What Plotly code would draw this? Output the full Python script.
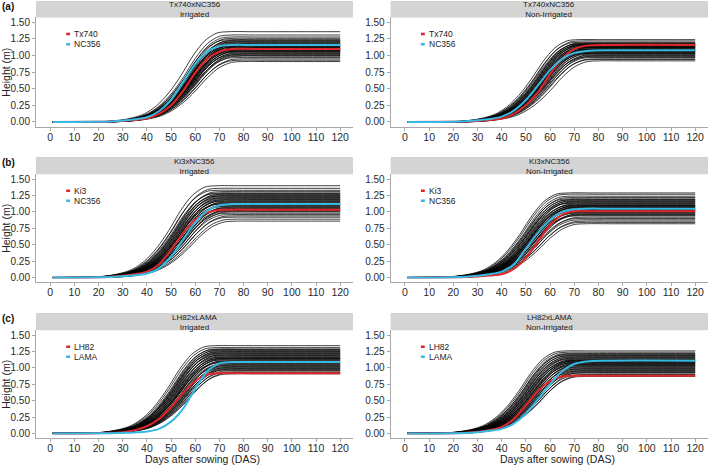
import plotly.graph_objects as go

# ---------------- data ----------------
DAYS = [1, 20, 25, 30, 35, 40, 45, 50, 55, 60, 65, 70, 75, 85, 120]
# shared growth profile of the population lines (fraction of final height)
PROFILE = [0, 0.002, 0.007, 0.02, 0.045, 0.09, 0.18, 0.32, 0.51, 0.73, 0.90, 0.985, 1.0, 1.0, 1.0]

TITLES_TOP = ["Tx740xNC356", "Tx740xNC356", "Ki3xNC356", "Ki3xNC356", "LH82xLAMA", "LH82xLAMA"]
TITLES_BOTTOM = ["Irrigated", "Non-Irrigated", "Irrigated", "Non-Irrigated", "Irrigated", "Non-Irrigated"]
PARENT_RED = ["Tx740", "Tx740", "Ki3", "Ki3", "LH82", "LH82"]
PARENT_CYAN = ["NC356", "NC356", "NC356", "NC356", "LAMA", "LAMA"]
PANEL_TAGS = ["(a)", "(b)", "(c)"]

# final heights (m) of the population lines per panel
heights_a = [1.36, 1.31, 1.28, 1.26, 1.24, 1.23, 1.22, 1.21, 1.20, 1.19, 1.18, 1.17, 1.165, 1.16,
             1.15, 1.145, 1.14, 1.13, 1.125, 1.12, 1.11, 1.105, 1.10, 1.09, 1.085, 1.08, 1.07,
             1.065, 1.06, 1.05, 1.04, 1.03, 1.02, 1.01, 1.00, 0.99, 0.97, 0.95, 0.93, 0.91]
heights_a2 = [1.24, 1.22, 1.20, 1.19, 1.18, 1.175, 1.17, 1.165, 1.16, 1.155, 1.15, 1.14, 1.135,
              1.13, 1.125, 1.12, 1.115, 1.11, 1.10, 1.095, 1.09, 1.085, 1.08, 1.075, 1.07, 1.06,
              1.055, 1.05, 1.04, 1.035, 1.03, 1.02, 1.01, 1.00, 0.99, 0.98, 0.97, 0.95, 0.94, 0.92]
heights_b = [1.40, 1.36, 1.33, 1.31, 1.29, 1.28, 1.27, 1.26, 1.25, 1.24, 1.23, 1.22, 1.21, 1.20,
             1.19, 1.18, 1.17, 1.16, 1.15, 1.14, 1.13, 1.12, 1.11, 1.10, 1.09, 1.08, 1.07, 1.06,
             1.05, 1.04, 1.03, 1.02, 1.01, 1.00, 0.98, 0.96, 0.94, 0.92, 0.89, 0.86]
heights_b2 = [1.29, 1.27, 1.24, 1.22, 1.20, 1.19, 1.18, 1.17, 1.16, 1.15, 1.14, 1.13, 1.12, 1.11,
              1.10, 1.095, 1.09, 1.08, 1.075, 1.07, 1.06, 1.05, 1.045, 1.04, 1.03, 1.02, 1.01,
              1.00, 0.99, 0.98, 0.97, 0.96, 0.95, 0.94, 0.92, 0.90, 0.88, 0.86, 0.84, 0.82]
heights_c = [1.34, 1.31, 1.29, 1.28, 1.27, 1.26, 1.25, 1.24, 1.23, 1.22, 1.21, 1.20, 1.19, 1.18,
             1.17, 1.16, 1.15, 1.145, 1.14, 1.13, 1.12, 1.11, 1.10, 1.09, 1.08, 1.07, 1.06, 1.05,
             1.04, 1.03, 1.02, 1.01, 1.00, 0.99, 0.98, 0.97, 0.96, 0.94, 0.93, 0.91]
heights_c2 = [1.26, 1.24, 1.22, 1.21, 1.20, 1.19, 1.18, 1.17, 1.16, 1.15, 1.14, 1.13, 1.12, 1.115,
              1.11, 1.10, 1.095, 1.09, 1.08, 1.075, 1.07, 1.06, 1.05, 1.045, 1.04, 1.03, 1.02,
              1.01, 1.00, 0.99, 0.98, 0.97, 0.96, 0.95, 0.94, 0.93, 0.92, 0.90, 0.89, 0.87]

# timing offset (days) of each population line
shifts_a = [-1, 0, 0.5, 1, 0, 1.5, 1, 2, 0.5, 1.5, 2, 1, 2.5, 1.5, 2, 1, 2.5, 2, 1.5, 3,
            2, 2.5, 1.5, 3, 2, 2.5, 3.5, 2, 3, 2.5, 3.5, 3, 4, 2.5, 3.5, 4, 3, 4.5, 4, 5]
shifts_a2 = [-3, -2, -2.5, -1, -1.5, -2, -0.5, -1, 0, -1.5, -0.5, 0.5, -1, 0, 1, -0.5, 0.5, 0, 1, 1.5,
             0, 1, 0.5, 1.5, 2, 0.5, 1, 2, 1.5, 2.5, 1, 2, 3, 2.5, 3.5, 2, 3, 4, 3.5, 5]
shifts_b = [-6, -5, -5.5, -4, -4.5, -5, -3.5, -4, -3, -4.5, -3.5, -2.5, -4, -3, -2, -3.5, -2.5, -3, -1.5, -2.5,
            -2, -3, -1, -2, -1.5, -2.5, -0.5, -1.5, -1, -2, 0, -1, -0.5, 0.5, -1, 0, 1, 0.5, 1.5, 2]
shifts_b2 = [-7.5, -7, -6.5, -6, -6.5, -5.5, -6, -5, -5.5, -4.5, -5, -6, -4, -4.5, -5, -3.5, -4, -4.5, -3, -4,
             -3.5, -4.5, -2.5, -3.5, -3, -4, -2, -3, -2.5, -3.5, -1.5, -2.5, -2, -3, -1, -2, -1.5, -0.5, -1, 0]
shifts_c = [-6.5, -6, -5, -5.5, -4.5, -5, -4, -4.5, -3.5, -5, -4, -3, -4.5, -3.5, -2.5, -4, -3, -2, -3.5, -2.5,
            -3, -1.5, -2.5, -2, -3, -1, -2, -1.5, -0.5, -2, -1, 0, -1.5, -0.5, 0, -1, 0.5, 0, 1, 0.5]
shifts_c2 = [-8, -7.5, -7, -6.5, -7, -6, -6.5, -5.5, -6, -5, -6, -5.5, -4.5, -5, -4, -5.5, -4.5, -3.5, -4, -5,
             -3, -4, -3.5, -2.5, -4, -3, -2, -3.5, -2.5, -1.5, -3, -2, -1, -2.5, -1.5, -0.5, -2, -1, 0, -0.5]

# parent lines, heights (m) at DAYS
red_a = [0, 0.002, 0.006, 0.015, 0.03, 0.05, 0.12, 0.25, 0.47, 0.74, 0.95, 1.06, 1.10, 1.10, 1.10]
cyan_a = [0, 0.002, 0.008, 0.02, 0.04, 0.07, 0.16, 0.33, 0.60, 0.87, 1.06, 1.14, 1.16, 1.16, 1.16]
red_a2 = [0, 0.002, 0.006, 0.015, 0.03, 0.05, 0.12, 0.25, 0.45, 0.72, 0.95, 1.10, 1.15, 1.16, 1.16]
cyan_a2 = [0, 0.003, 0.01, 0.025, 0.045, 0.08, 0.17, 0.33, 0.55, 0.78, 0.95, 1.04, 1.07, 1.08, 1.08]
red_b = [0, 0.003, 0.01, 0.025, 0.05, 0.09, 0.20, 0.42, 0.68, 0.88, 0.99, 1.03, 1.035, 1.035, 1.035]
cyan_b = [0, 0.002, 0.007, 0.018, 0.035, 0.06, 0.14, 0.32, 0.58, 0.84, 1.02, 1.10, 1.12, 1.12, 1.12]
red_b2 = [0, 0.002, 0.006, 0.015, 0.03, 0.05, 0.13, 0.30, 0.55, 0.80, 0.96, 1.01, 1.01, 1.01, 1.01]
cyan_b2 = [0, 0.003, 0.01, 0.025, 0.05, 0.09, 0.20, 0.44, 0.68, 0.88, 1.00, 1.04, 1.05, 1.05, 1.05]
red_c = [0, 0.003, 0.01, 0.02, 0.05, 0.11, 0.22, 0.40, 0.62, 0.80, 0.90, 0.92, 0.92, 0.92, 0.92]
cyan_c = [0, 0.001, 0.003, 0.008, 0.015, 0.03, 0.07, 0.18, 0.38, 0.68, 0.95, 1.07, 1.09, 1.09, 1.09]
red_c2 = [0, 0.003, 0.01, 0.025, 0.05, 0.10, 0.22, 0.43, 0.65, 0.80, 0.87, 0.88, 0.88, 0.88, 0.88]
cyan_c2 = [0, 0.002, 0.008, 0.02, 0.04, 0.07, 0.15, 0.30, 0.52, 0.75, 0.95, 1.06, 1.10, 1.11, 1.11]

X_TICKS = [0, 10, 20, 30, 40, 50, 60, 70, 80, 90, 100, 110, 120]
Y_TICKS = [0.00, 0.25, 0.50, 0.75, 1.00, 1.25, 1.50]
Y_TICK_TEXT = ["0.00", "0.25", "0.50", "0.75", "1.00", "1.25", "1.50"]

HEIGHTS = [heights_a, heights_a2, heights_b, heights_b2, heights_c, heights_c2]
SHIFTS = [shifts_a, shifts_a2, shifts_b, shifts_b2, shifts_c, shifts_c2]
REDS = [red_a, red_a2, red_b, red_b2, red_c, red_c2]
CYANS = [cyan_a, cyan_a2, cyan_b, cyan_b2, cyan_c, cyan_c2]

# ---------------- layout geometry ----------------
W, H = 709, 466
RED = "#e0262b"
CYAN = "#36b9e3"
FONT = "Liberation Sans, Arial, sans-serif"

col_px = [(36, 353), (390.7, 708)]
row_px = [(16.5, 126.5), (174, 282.7), (330.7, 439.3)]
strip_px = [(0, 16.5), (156.7, 174), (313.3, 330.7)]


def px_x(p):
    return p / W


def px_y(p):
    return 1 - p / H


fig = go.Figure()
layout = dict(
    width=W, height=H, margin=dict(l=0, r=0, t=0, b=0),
    paper_bgcolor="white", plot_bgcolor="white", showlegend=False,
    font=dict(family=FONT, color="#222222"),
)
annotations = []
shapes = []

for k in range(6):
    r, c = divmod(k, 2)
    xa = "x" if k == 0 else f"x{k + 1}"
    ya = "y" if k == 0 else f"y{k + 1}"
    xkey = "xaxis" if k == 0 else f"xaxis{k + 1}"
    ykey = "yaxis" if k == 0 else f"yaxis{k + 1}"

    # population lines
    for hgt, sh in zip(HEIGHTS[k], SHIFTS[k]):
        xs = [d if (i == 0 or i == len(DAYS) - 1) else d + sh for i, d in enumerate(DAYS)]
        ys = [hgt * p for p in PROFILE]
        fig.add_trace(go.Scatter(x=xs, y=ys, mode="lines", xaxis=xa, yaxis=ya,
                                 line=dict(color="#000000", width=0.75, shape="spline", smoothing=0.9),
                                 hoverinfo="skip"))
    fig.add_trace(go.Scatter(x=DAYS, y=REDS[k], mode="lines", xaxis=xa, yaxis=ya, name=PARENT_RED[k],
                             line=dict(color=RED, width=2, shape="spline", smoothing=0.9)))
    fig.add_trace(go.Scatter(x=DAYS, y=CYANS[k], mode="lines", xaxis=xa, yaxis=ya, name=PARENT_CYAN[k],
                             line=dict(color=CYAN, width=2, shape="spline", smoothing=0.9)))

    x0, x1 = col_px[c]
    y0, y1 = row_px[r]
    layout[xkey] = dict(
        domain=[px_x(x0), px_x(x1)], anchor=ya, range=[-5.9, 125.3],
        tickvals=X_TICKS, ticktext=[str(v) for v in X_TICKS],
        showgrid=False, zeroline=False, showline=True, linecolor="#a8a8a8", linewidth=1,
        ticks="outside", ticklen=3, tickcolor="#a8a8a8", ticklabelstandoff=-3,
        tickfont=dict(size=10.5, color="#2a2a2a", family=FONT),
    )
    layout[ykey] = dict(
        domain=[px_y(y1), px_y(y0)], anchor=xa, range=[-0.076, 1.575],
        tickvals=Y_TICKS, ticktext=Y_TICK_TEXT,
        showgrid=False, zeroline=False, showline=True, linecolor="#a8a8a8", linewidth=1,
        ticks="outside", ticklen=3, tickcolor="#a8a8a8",
        tickfont=dict(size=10, color="#2a2a2a", family=FONT),
    )

    # strip with two-line facet label
    s0, s1 = strip_px[r]
    shapes.append(dict(type="rect", xref="paper", yref="paper",
                       x0=px_x(x0), x1=px_x(x1), y0=px_y(s1), y1=px_y(s0),
                       fillcolor="#d4d4d4", line=dict(width=0), layer="below"))
    cx = px_x((x0 + x1) / 2)
    annotations.append(dict(xref="paper", yref="paper", x=cx, y=px_y((s0 + s1) / 2 + 0.4),
                            text=f"{TITLES_TOP[k]}<br>{TITLES_BOTTOM[k]}", showarrow=False,
                            xanchor="center", yanchor="middle", borderpad=0,
                            font=dict(size=8, color="#1a1a1a", family=FONT)))

    # legend keys inside panel
    for yy, col, lab in [(1.325, RED, PARENT_RED[k]), (1.17, CYAN, PARENT_CYAN[k])]:
        shapes.append(dict(type="line", xref=xa, yref=ya, x0=6.6, x1=8.2, y0=yy, y1=yy,
                           line=dict(color=col, width=2.5)))
        annotations.append(dict(xref=xa, yref=ya, x=9.4, y=yy, text=lab, showarrow=False,
                                xanchor="left", yanchor="middle", borderpad=0,
                                font=dict(size=8.5, color="#222222", family=FONT)))

# panel tags
for r in range(3):
    annotations.append(dict(xref="paper", yref="paper", x=0.0, y=px_y(strip_px[r][0] + 5.5),
                            text=f"<b>{PANEL_TAGS[r]}</b>", showarrow=False, xanchor="left", yanchor="middle",
                            font=dict(size=10, color="#111111", family=FONT)))
    # y title (left column only)
    annotations.append(dict(xref="paper", yref="paper", x=px_x(6.5), y=px_y((row_px[r][0] + row_px[r][1]) / 2),
                            text="Height (m)", showarrow=False, textangle=-90,
                            xanchor="center", yanchor="middle",
                            font=dict(size=10.5, color="#222222", family=FONT)))

# x titles (bottom row)
for c in range(2):
    annotations.append(dict(xref="paper", yref="paper", x=px_x((col_px[c][0] + col_px[c][1]) / 2 + 8),
                            y=px_y(459.5), text="Days after sowing (DAS)", showarrow=False,
                            xanchor="center", yanchor="middle", borderpad=0,
                            font=dict(size=10.5, color="#222222", family=FONT)))

layout["annotations"] = annotations
layout["shapes"] = shapes
fig.update_layout(**layout)
fig.write_html("out.html", config={"displayModeBar": False},
               post_script="document.body.style.margin='0px';document.body.style.overflow='hidden';")
